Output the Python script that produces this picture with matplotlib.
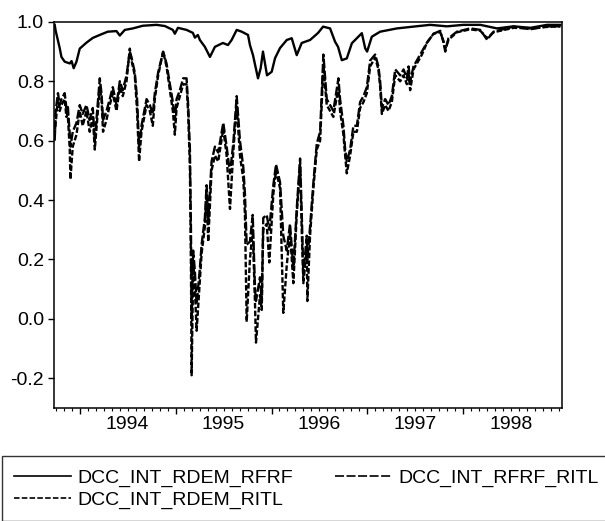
import matplotlib
matplotlib.use("Agg")
import matplotlib.pyplot as plt
from matplotlib.ticker import FixedLocator

plt.rcParams["font.family"] = ["Liberation Sans", "DejaVu Sans"]
plt.rcParams["lines.scale_dashes"] = False

# DCC_INT_RDEM_RFRF (solid)
rdem_rfrf_dates = [
    1993.739, 1993.749, 1993.791, 1993.809, 1993.843, 1993.896, 1993.915, 1993.937,
    1993.966, 1994.000, 1994.070, 1994.136, 1994.209, 1994.292, 1994.383, 1994.418,
    1994.470, 1994.554, 1994.658, 1994.801, 1994.888, 1994.971, 1994.992, 1995.024,
    1995.114, 1995.180, 1995.201, 1995.232, 1995.253, 1995.305, 1995.358, 1995.410,
    1995.493, 1995.546, 1995.584, 1995.637, 1995.689, 1995.755, 1995.775, 1995.807,
    1995.859, 1995.887, 1995.911, 1995.953, 1996.002, 1996.037, 1996.089, 1996.159,
    1996.211, 1996.263, 1996.315, 1996.402, 1996.486, 1996.538, 1996.611, 1996.663,
    1996.694, 1996.733, 1996.785, 1996.838, 1996.890, 1996.942, 1996.977, 1996.997,
    1997.046, 1997.133, 1997.308, 1997.478, 1997.655, 1997.830, 1998.000, 1998.178,
    1998.352, 1998.525, 1998.700, 1998.874, 1999.013,
]
rdem_rfrf = [
    0.99, 0.97, 0.912, 0.882, 0.866, 0.86, 0.868, 0.844,
    0.866, 0.91, 0.93, 0.946, 0.956, 0.967, 0.969, 0.954,
    0.973, 0.978, 0.987, 0.99, 0.986, 0.973, 0.96, 0.98,
    0.973, 0.963, 0.947, 0.956, 0.939, 0.916, 0.882, 0.916,
    0.929, 0.922, 0.939, 0.973, 0.967, 0.956, 0.922, 0.888,
    0.81, 0.844, 0.90, 0.82, 0.832, 0.878, 0.912, 0.939,
    0.945, 0.888, 0.929, 0.939, 0.963, 0.984, 0.978, 0.933,
    0.916, 0.871, 0.877, 0.928, 0.945, 0.962, 0.911, 0.90,
    0.95, 0.967, 0.978, 0.984, 0.99, 0.985, 0.99, 0.99,
    0.978, 0.985, 0.98, 0.99, 0.99,
]

# dates shared by the two ITL series
itl_dates = [
    1993.739, 1993.749, 1993.773, 1993.791, 1993.809, 1993.843, 1993.861, 1993.875,
    1993.896, 1993.903, 1993.927, 1993.966, 1994.000, 1994.031, 1994.070, 1994.104,
    1994.136, 1994.157, 1994.174, 1994.209, 1994.227, 1994.243, 1994.279, 1994.313,
    1994.345, 1994.383, 1994.418, 1994.449, 1994.488, 1994.522, 1994.540, 1994.574,
    1994.598, 1994.619, 1994.644, 1994.697, 1994.731, 1994.762, 1994.783, 1994.818,
    1994.870, 1994.905, 1994.940, 1994.971, 1994.992, 1995.010, 1995.044, 1995.079,
    1995.114, 1995.131, 1995.149, 1995.160, 1995.167, 1995.180, 1995.183, 1995.201,
    1995.219, 1995.253, 1995.271, 1995.305, 1995.323, 1995.340, 1995.375, 1995.410,
    1995.444, 1995.497, 1995.532, 1995.567, 1995.601, 1995.637, 1995.671, 1995.706,
    1995.723, 1995.741, 1995.775, 1995.804, 1995.828, 1995.838, 1995.880, 1995.898,
    1995.914, 1995.950, 1995.977, 1996.019, 1996.047, 1996.089, 1996.123, 1996.159,
    1996.193, 1996.228, 1996.263, 1996.298, 1996.315, 1996.332, 1996.368, 1996.374,
    1996.402, 1996.437, 1996.472, 1996.507, 1996.541, 1996.576, 1996.611, 1996.645,
    1996.698, 1996.715, 1996.750, 1996.768, 1996.785, 1996.820, 1996.854, 1996.890,
    1996.924, 1996.959, 1996.994, 1997.029, 1997.081, 1997.115, 1997.133, 1997.151,
    1997.185, 1997.220, 1997.255, 1997.290, 1997.342, 1997.377, 1997.412, 1997.429,
    1997.446, 1997.481, 1997.516, 1997.569, 1997.621, 1997.690, 1997.760, 1997.794,
    1997.812, 1997.846, 1997.934, 1998.073, 1998.178, 1998.248, 1998.316, 1998.525,
    1998.700, 1998.874, 1999.013,
]
# DCC_INT_RFRF_RITL (long dash)
rfrf_ritl = [
    0.60, 0.70, 0.76, 0.72, 0.74, 0.76, 0.71, 0.72,
    0.62, 0.58, 0.63, 0.66, 0.72, 0.69, 0.72, 0.67,
    0.71, 0.60, 0.67, 0.81, 0.76, 0.67, 0.70, 0.74,
    0.78, 0.72, 0.80, 0.77, 0.82, 0.90, 0.88, 0.83,
    0.74, 0.58, 0.65, 0.74, 0.72, 0.69, 0.76, 0.83,
    0.90, 0.86, 0.79, 0.73, 0.67, 0.74, 0.77, 0.81,
    0.81, 0.72, 0.57, 0.30, 0.00, 0.18, 0.23, 0.16,
    0.05, 0.17, 0.25, 0.34, 0.45, 0.33, 0.53, 0.58,
    0.56, 0.66, 0.58, 0.49, 0.59, 0.75, 0.60, 0.51,
    0.42, 0.25, 0.26, 0.35, 0.10, 0.06, 0.14, 0.06,
    0.34, 0.35, 0.30, 0.45, 0.52, 0.46, 0.28, 0.23,
    0.32, 0.17, 0.37, 0.54, 0.36, 0.15, 0.28, 0.20,
    0.31, 0.46, 0.59, 0.63, 0.89, 0.74, 0.72, 0.70,
    0.81, 0.74, 0.65, 0.57, 0.53, 0.57, 0.65, 0.65,
    0.73, 0.75, 0.78, 0.87, 0.89, 0.85, 0.80, 0.71,
    0.74, 0.72, 0.75, 0.84, 0.82, 0.84, 0.81, 0.85,
    0.80, 0.85, 0.87, 0.90, 0.93, 0.96, 0.97, 0.93,
    0.90, 0.945, 0.967, 0.978, 0.973, 0.94, 0.967, 0.984,
    0.975, 0.985, 0.985,
]
# DCC_INT_RDEM_RITL (short dash)
rdem_ritl = [
    0.62, 0.66, 0.74, 0.70, 0.72, 0.74, 0.68, 0.69,
    0.57, 0.47, 0.58, 0.62, 0.70, 0.65, 0.70, 0.63,
    0.68, 0.57, 0.64, 0.78, 0.74, 0.63, 0.67, 0.72,
    0.76, 0.70, 0.78, 0.75, 0.80, 0.91, 0.87, 0.82,
    0.70, 0.53, 0.63, 0.72, 0.70, 0.65, 0.74, 0.82,
    0.90, 0.85, 0.77, 0.70, 0.62, 0.71, 0.75, 0.79,
    0.79, 0.69, 0.51, 0.17, -0.19, 0.10, 0.20, 0.10,
    -0.04, 0.13, 0.22, 0.31, 0.42, 0.26, 0.50, 0.55,
    0.53, 0.64, 0.55, 0.37, 0.56, 0.72, 0.55, 0.47,
    0.35, -0.01, 0.20, 0.30, 0.05, -0.08, 0.08, 0.03,
    0.30, 0.32, 0.19, 0.42, 0.50, 0.44, 0.02, 0.18,
    0.29, 0.12, 0.35, 0.52, 0.30, 0.12, 0.24, 0.06,
    0.28, 0.44, 0.57, 0.60, 0.85, 0.72, 0.70, 0.68,
    0.78, 0.70, 0.62, 0.55, 0.49, 0.55, 0.63, 0.63,
    0.71, 0.73, 0.76, 0.85, 0.88, 0.84, 0.78, 0.69,
    0.72, 0.70, 0.73, 0.82, 0.80, 0.82, 0.79, 0.83,
    0.77, 0.84, 0.86, 0.89, 0.93, 0.96, 0.965, 0.935,
    0.91, 0.94, 0.965, 0.975, 0.97, 0.945, 0.965, 0.98,
    0.978, 0.983, 0.985,
]

year_ticks = [1994, 1995, 1996, 1997, 1998]
month_ticks = [1993.75 + m / 12 for m in range(0, 64)]

long_dash = (0, (6.5, 1.8))
short_dash = (0, (4, 1.6))

fig = plt.figure(figsize=(6.05, 5.21), dpi=100)
ax = fig.add_axes([0.089, 0.217, 0.840, 0.741])

ax.plot(itl_dates, rdem_ritl, color="black", lw=1.7, linestyle=short_dash, zorder=2)
ax.plot(itl_dates, rfrf_ritl, color="black", lw=1.7, linestyle=long_dash, zorder=3)
ax.plot(rdem_rfrf_dates, rdem_rfrf, color="black", lw=1.7, zorder=4)

ax.set_xlim(1993.73, 1999.03)
ax.set_ylim(-0.3, 1.0)
ax.set_yticks([-0.2, 0.0, 0.2, 0.4, 0.6, 0.8, 1.0])
ax.set_yticklabels(["-0.2", "0.0", "0.2", "0.4", "0.6", "0.8", "1.0"])
ax.tick_params(axis="y", direction="out", length=4.5, width=1, pad=2.5, labelsize=14)

ax.xaxis.set_major_locator(FixedLocator(year_ticks))
ax.xaxis.set_minor_locator(FixedLocator(month_ticks))
ax.tick_params(axis="x", which="major", direction="out", length=4.5, width=1, labelbottom=False)
ax.tick_params(axis="x", which="minor", direction="out", length=2.5, width=0.8)

# year labels sit in the middle of each year
sec = ax.secondary_xaxis("bottom")
sec.set_xticks([y + 0.5 for y in year_ticks])
sec.set_xticklabels([str(y) for y in year_ticks])
sec.tick_params(length=0, pad=6, labelsize=14)
sec.spines["bottom"].set_visible(False)

for sp in ax.spines.values():
    sp.set_linewidth(1.1)

# legend box runs off the right and bottom edges, as in the scan
h1, = ax.plot([], [], color="black", lw=1.2)
h2, = ax.plot([], [], color="black", lw=1.2, linestyle=long_dash)
h3, = ax.plot([], [], color="black", lw=1.2, linestyle=short_dash)
leg = fig.legend(
    [h1, h3, h2],
    ["DCC_INT_RDEM_RFRF", "DCC_INT_RDEM_RITL", "DCC_INT_RFRF_RITL"],
    ncol=2, loc="upper left", bbox_to_anchor=(0.003, 0.124, 1.008, 0), mode="expand",
    fontsize=14, frameon=True, fancybox=False, edgecolor="black",
    handlelength=2.9, handletextpad=0.35, columnspacing=0.7,
    labelspacing=0.2, borderpad=0.65, borderaxespad=0,
)
leg.get_frame().set_linewidth(1.0)

fig.savefig("out.png", dpi=100)
